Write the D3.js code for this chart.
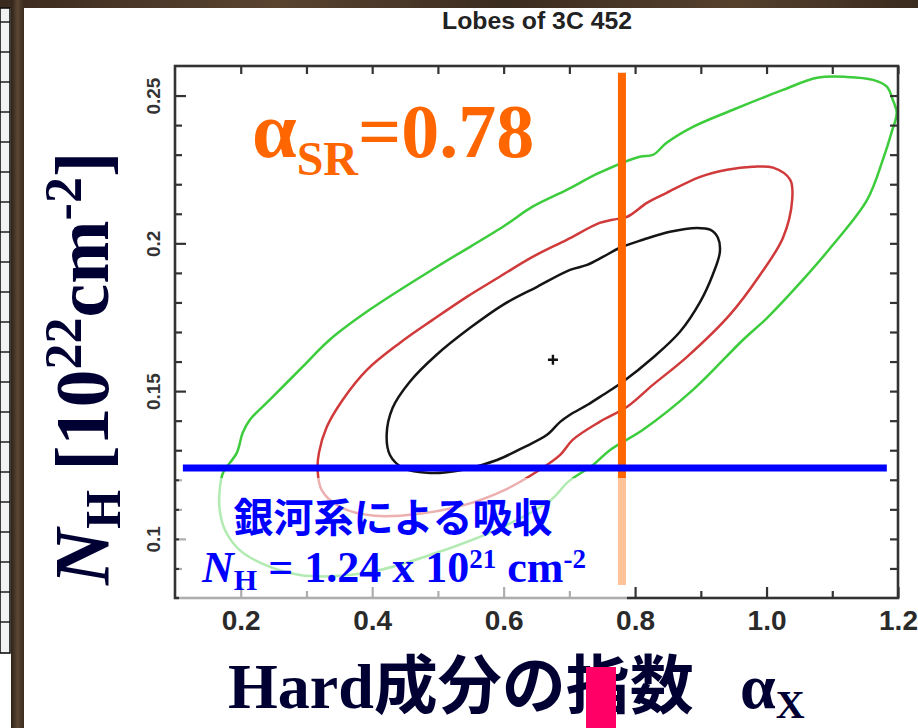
<!DOCTYPE html>
<html>
<head>
<meta charset="utf-8">
<script src="https://cdn.jsdelivr.net/npm/d3@7"></script>
<style>
  body { margin: 0; background: #fff; }
  svg { display: block; }
</style>
</head>
<body>
<svg id="chart" width="918" height="728"></svg>
<script>
// ---- axis definitions ----
const X_DOMAIN = [0.1, 1.2];
const Y_DOMAIN = [0.08, 0.26];
const X_MAJOR_TICKS = [0.2, 0.4, 0.6, 0.8, 1.0, 1.2];
const X_TICK_LABELS = ["0.2", "0.4", "0.6", "0.8", "1.0", "1.2"];
const X_MINOR_TICKS = [0.3, 0.5, 0.7, 0.9, 1.1];
const Y_MAJOR_TICKS = [0.1, 0.15, 0.2, 0.25];
const Y_TICK_LABELS = ["0.1", "0.15", "0.2", "0.25"];
const Y_MINOR_TICKS = [0.09, 0.11, 0.12, 0.13, 0.14, 0.16, 0.17, 0.18, 0.19, 0.21, 0.22, 0.23, 0.24];

// ---- confidence contours: [photon index, N_H (1e22 cm^-2)] ----
const BEST_FIT = [0.675, 0.1606];
const CONTOUR_68 = [
  [0.926, 0.2019], [0.914, 0.2046], [0.894, 0.2052], [0.853, 0.2039], [0.812, 0.2012],
  [0.777, 0.1985], [0.751, 0.1954], [0.727, 0.1927], [0.701, 0.1910], [0.651, 0.1853],
  [0.599, 0.1792], [0.549, 0.1714], [0.498, 0.1623], [0.457, 0.1531], [0.431, 0.1443],
  [0.422, 0.1352], [0.427, 0.1284], [0.447, 0.1240], [0.488, 0.1223], [0.538, 0.1234],
  [0.590, 0.1267], [0.629, 0.1308], [0.666, 0.1352], [0.686, 0.1396], [0.701, 0.1420],
  [0.727, 0.1453], [0.751, 0.1487], [0.781, 0.1531], [0.827, 0.1613], [0.868, 0.1700],
  [0.899, 0.1802], [0.918, 0.1893], [0.929, 0.1971]
];
const CONTOUR_90 = [
  [1.039, 0.2147], [1.036, 0.2215], [1.010, 0.2256], [0.979, 0.2259], [0.940, 0.2249],
  [0.899, 0.2225], [0.848, 0.2171], [0.818, 0.2137], [0.788, 0.2090], [0.766, 0.2080],
  [0.746, 0.2069], [0.696, 0.2012], [0.644, 0.1954], [0.594, 0.1887], [0.544, 0.1819],
  [0.492, 0.1741], [0.442, 0.1663], [0.392, 0.1572], [0.355, 0.1470], [0.331, 0.1379],
  [0.319, 0.1291], [0.317, 0.1234], [0.323, 0.1166], [0.351, 0.1108], [0.404, 0.1078],
  [0.472, 0.1085], [0.541, 0.1115], [0.602, 0.1166], [0.655, 0.1234], [0.686, 0.1284],
  [0.705, 0.1335], [0.746, 0.1396], [0.788, 0.1447], [0.827, 0.1521], [0.879, 0.1616],
  [0.944, 0.1758], [0.990, 0.1893], [1.025, 0.2019]
];
const CONTOUR_99 = [
  [1.198, 0.2442], [1.192, 0.2486], [1.183, 0.2530], [1.162, 0.2553], [1.122, 0.2563],
  [1.077, 0.2560], [1.025, 0.2519], [0.949, 0.2452], [0.888, 0.2394], [0.848, 0.2340],
  [0.827, 0.2299], [0.807, 0.2293], [0.746, 0.2239], [0.696, 0.2181], [0.644, 0.2124],
  [0.599, 0.2056], [0.498, 0.1920], [0.396, 0.1775], [0.335, 0.1673], [0.294, 0.1582],
  [0.244, 0.1470], [0.214, 0.1403], [0.203, 0.1359], [0.194, 0.1291], [0.173, 0.1223],
  [0.168, 0.1166], [0.168, 0.1098], [0.176, 0.1030], [0.198, 0.0963], [0.237, 0.0912],
  [0.290, 0.0878], [0.351, 0.0875], [0.412, 0.0895], [0.498, 0.0953], [0.599, 0.1041],
  [0.672, 0.1132], [0.698, 0.1193], [0.736, 0.1250], [0.762, 0.1301], [0.812, 0.1369],
  [0.888, 0.1504], [0.964, 0.1673], [1.001, 0.1748], [1.051, 0.1866], [1.101, 0.1995],
  [1.153, 0.2147], [1.177, 0.2283], [1.190, 0.2374]
];

// ---- reference values ----
const ALPHA_SR = 0.78;            // radio spectral index
const NH_GALACTIC = 0.124;        // 1.24e21 cm^-2 expressed in 1e22 cm^-2
const ALPHA_SR_SPAN = [0.0844, 0.2577];
const NH_GALACTIC_SPAN = [0.112, 1.183];

// ---- layout ----
const W = 918, H = 728;
const svg = d3.select("#chart");
const x = d3.scaleLinear().domain(X_DOMAIN).range([175, 898]);
const y = d3.scaleLinear().domain(Y_DOMAIN).range([598, 66]);

const SERIF = "'Liberation Serif', 'Times New Roman', serif";
const SANS = "'Liberation Sans', Arial, sans-serif";
const CJK = "'Noto Sans CJK JP', sans-serif";
const NAVY = "#000033";

// slide background
svg.append("rect").attr("width", W).attr("height", H).attr("fill", "#fff");

// wooden border of the slide
const defs = svg.append("defs");
const woodH = defs.append("linearGradient").attr("id", "woodH")
  .attr("x1", 0).attr("x2", 1).attr("y1", 0).attr("y2", 0);
[["0%", "#3a2a1e"], ["30%", "#5a4430"], ["55%", "#3b2c20"], ["80%", "#55402c"], ["100%", "#3a2b1f"]]
  .forEach(([o, c]) => woodH.append("stop").attr("offset", o).attr("stop-color", c));
const woodV = defs.append("linearGradient").attr("id", "woodV")
  .attr("x1", 0).attr("x2", 1).attr("y1", 0).attr("y2", 0);
[["0%", "#2e2218"], ["50%", "#5b4633"], ["100%", "#3a2c20"]]
  .forEach(([o, c]) => woodV.append("stop").attr("offset", o).attr("stop-color", c));
svg.append("rect").attr("x", 0).attr("y", 0).attr("width", W).attr("height", 8).attr("fill", "url(#woodH)");
svg.append("rect").attr("x", 11).attr("y", 0).attr("width", 13).attr("height", H).attr("fill", "url(#woodV)");

// ruler strip on the far left
const ruler = svg.append("g");
ruler.append("rect").attr("x", 0).attr("y", 8).attr("width", 10).attr("height", 645)
  .attr("fill", "#f2f2f2").attr("stroke", "#111").attr("stroke-width", 1.6);
ruler.selectAll("line").data(d3.range(22, 650, 30)).join("line")
  .attr("x1", 0).attr("x2", 10)
  .attr("y1", d => d).attr("y2", d => d)
  .attr("stroke", "#111").attr("stroke-width", 1.4);

// plot title
svg.append("text")
  .attr("x", 537).attr("y", 29)
  .attr("text-anchor", "middle")
  .attr("font-family", SANS)
  .attr("font-weight", "bold")
  .attr("font-size", 23)
  .attr("fill", "#222")
  .attr("textLength", 190)
  .attr("lengthAdjust", "spacingAndGlyphs")
  .text("Lobes of 3C 452");

// ---- contours ----
const line = d3.line().x(d => x(d[0])).y(d => y(d[1])).curve(d3.curveCatmullRomClosed.alpha(0.5));
const plot = svg.append("g");
[[CONTOUR_99, "#3ccc3c"], [CONTOUR_90, "#d03a3a"], [CONTOUR_68, "#151515"]].forEach(([pts, col]) => {
  plot.append("path").attr("d", line(pts))
    .attr("fill", "none").attr("stroke", col).attr("stroke-width", 2.5)
    .attr("stroke-linejoin", "round");
});

// best-fit marker
const bx = x(BEST_FIT[0]), by = y(BEST_FIT[1]);
plot.append("path")
  .attr("d", `M${bx - 5},${by}H${bx + 5}M${bx},${by - 5}V${by + 5}`)
  .attr("stroke", "#111").attr("stroke-width", 2.4);

// ---- frame and ticks ----
function tickAxis(gen, scale, values, size, tx, ty) {
  const g = svg.append("g").attr("transform", `translate(${tx},${ty})`)
    .call(gen(scale).tickValues(values).tickSize(-size).tickFormat(""));
  g.select(".domain").remove();
  g.selectAll(".tick line").attr("stroke", "#333").attr("stroke-width", 2.2);
  return g;
}
const x0 = x(X_DOMAIN[0]), x1 = x(X_DOMAIN[1]);
const y0 = y(Y_DOMAIN[0]), y1 = y(Y_DOMAIN[1]);
tickAxis(d3.axisBottom, x, X_MAJOR_TICKS, 11, 0, y0);
tickAxis(d3.axisBottom, x, X_MINOR_TICKS, 7, 0, y0);
tickAxis(d3.axisTop, x, X_MAJOR_TICKS.concat(X_MINOR_TICKS), 8, 0, y1);
tickAxis(d3.axisLeft, y, Y_MAJOR_TICKS, 11, x0, 0);
tickAxis(d3.axisLeft, y, Y_MINOR_TICKS, 7, x0, 0);
tickAxis(d3.axisRight, y, Y_MAJOR_TICKS.concat(Y_MINOR_TICKS), 8, x1, 0);
svg.append("rect").attr("x", x0).attr("y", y1).attr("width", x1 - x0).attr("height", y0 - y1)
  .attr("fill", "none").attr("stroke", "#333").attr("stroke-width", 2.6);

// x tick labels
const xl = svg.append("g").attr("transform", `translate(0,${y0})`)
  .call(d3.axisBottom(x).tickValues(X_MAJOR_TICKS).tickSize(0).tickPadding(12)
    .tickFormat((d, i) => X_TICK_LABELS[i]));
xl.select(".domain").remove();
xl.selectAll("text").attr("font-family", SANS).attr("font-weight", "bold")
  .attr("font-size", 28).attr("fill", "#2a2a2a");

// y tick labels (rotated)
const yl = svg.append("g").attr("transform", `translate(${x0},0)`)
  .call(d3.axisLeft(y).tickValues(Y_MAJOR_TICKS).tickSize(0)
    .tickFormat((d, i) => Y_TICK_LABELS[i]));
yl.select(".domain").remove();
yl.selectAll("text")
  .attr("transform", "rotate(-90)")
  .attr("x", 0).attr("y", -15).attr("dy", 0)
  .attr("text-anchor", "middle")
  .attr("font-family", SANS).attr("font-weight", "bold")
  .attr("font-size", 19).attr("fill", "#333");

// ---- reference lines ----
const srX = x(ALPHA_SR);
svg.append("line")
  .attr("x1", srX).attr("x2", srX)
  .attr("y1", y(ALPHA_SR_SPAN[1])).attr("y2", y(ALPHA_SR_SPAN[0]))
  .attr("stroke", "#ff6600").attr("stroke-width", 8);
const nhY = y(NH_GALACTIC);
svg.append("line")
  .attr("x1", x(NH_GALACTIC_SPAN[0])).attr("x2", x(NH_GALACTIC_SPAN[1]))
  .attr("y1", nhY).attr("y2", nhY)
  .attr("stroke", "#0000ff").attr("stroke-width", 7);

// translucent label box
svg.append("rect")
  .attr("x", x0 + 4).attr("y", 478)
  .attr("width", srX + 5 - (x0 + 4)).attr("height", y0 + 4 - 478)
  .attr("fill", "#fff").attr("fill-opacity", 0.6);

// ---- annotations ----
const sr = svg.append("text").attr("x", 252).attr("y", 157)
  .attr("font-family", SERIF).attr("font-weight", "bold").attr("fill", "#ff6600");
sr.append("tspan").attr("font-size", 80).text("α");
sr.append("tspan").attr("font-size", 48).attr("dy", 18).text("SR");
sr.append("tspan").attr("font-size", 76).attr("dy", -18).text("=0.78");

svg.append("text").attr("x", 393).attr("y", 532)
  .attr("text-anchor", "middle")
  .attr("font-family", CJK).attr("font-weight", "bold")
  .attr("font-size", 40).attr("fill", "#0000ff")
  .text("銀河系による吸収");

const nh = svg.append("text").attr("x", 202).attr("y", 582)
  .attr("font-family", SERIF).attr("font-weight", "bold").attr("fill", "#0000ff");
nh.append("tspan").attr("font-size", 44).attr("font-style", "italic").text("N");
nh.append("tspan").attr("font-size", 30).attr("dy", 8).text("H");
nh.append("tspan").attr("font-size", 44).attr("dy", -8).text(" = 1.24 x 10");
nh.append("tspan").attr("font-size", 27).attr("dy", -14).text("21");
nh.append("tspan").attr("font-size", 44).attr("dy", 14).text(" cm");
nh.append("tspan").attr("font-size", 27).attr("dy", -14).text("-2");

// y axis title
const yt = svg.append("text")
  .attr("transform", "translate(108,585) rotate(-90)")
  .attr("font-family", SERIF).attr("font-weight", "bold").attr("fill", NAVY);
yt.append("tspan").attr("font-size", 78).attr("font-style", "italic").text("N");
yt.append("tspan").attr("font-size", 50).attr("dy", 12).text("H");
yt.append("tspan").attr("font-size", 76).attr("dy", -12).text(" [10");
yt.append("tspan").attr("font-size", 52).attr("dy", -27).text("22");
yt.append("tspan").attr("font-size", 76).attr("dy", 27).text("cm");
yt.append("tspan").attr("font-size", 52).attr("dy", -27).text("-2");
yt.append("tspan").attr("font-size", 76).attr("dy", 27).text("]");

// x axis title
svg.append("text").attr("x", 228).attr("y", 708)
  .attr("font-family", `${SERIF.split(",")[0]}, ${CJK}`).attr("font-weight", "bold")
  .attr("font-size", 64).attr("fill", NAVY)
  .text("Hard成分の指数");
const ax = svg.append("text").attr("x", 740).attr("y", 708)
  .attr("font-family", SERIF).attr("font-weight", "bold").attr("fill", NAVY);
ax.append("tspan").attr("font-size", 64).text("α");
ax.append("tspan").attr("font-size", 40).attr("dy", 10).text("X");

// pointer marker
svg.append("rect").attr("x", 586).attr("y", 667).attr("width", 30).attr("height", H - 667)
  .attr("fill", "#ff0066");
</script>
</body>
</html>
